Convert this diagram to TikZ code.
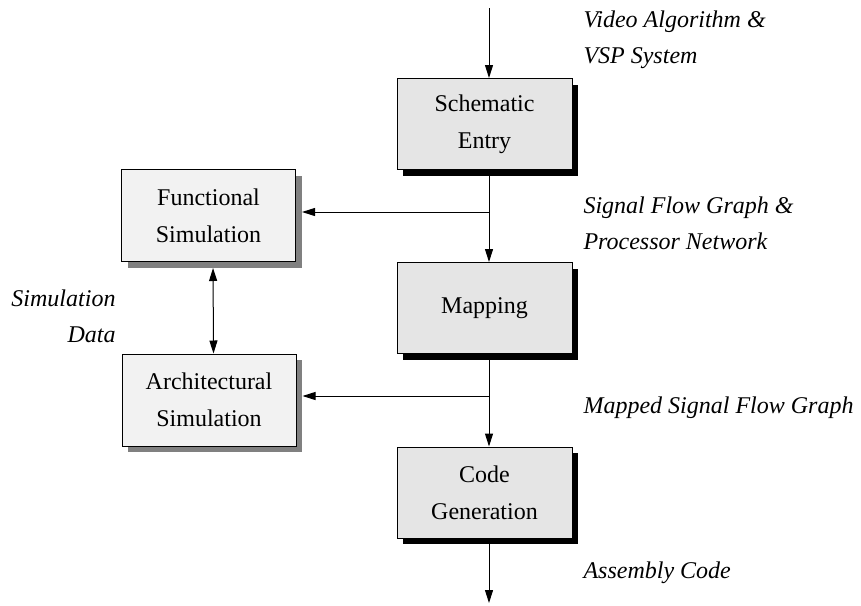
\documentclass[tikz,border=0pt]{standalone}
\usepackage{fontspec}
\setmainfont{Liberation Serif}
\usetikzlibrary{arrows.meta,shadows}
\begin{document}
\begin{tikzpicture}[x=0.5pt,y=-0.5pt,
    font=\fontsize{12}{18.5}\selectfont,
    >={Triangle[length=6.5pt,width=4pt]},
    every path/.style={line width=0.5pt},
    mainbox/.style={draw, fill=black!10, align=center, inner sep=0pt,
        minimum width=87.5pt, minimum height=45.5pt,
        drop shadow={opacity=1, fill=black, shadow xshift=3pt, shadow yshift=-3pt}},
    simbox/.style={draw, fill=black!5, align=center, inner sep=0pt,
        minimum width=87pt, minimum height=46pt,
        drop shadow={opacity=1, fill=black!50, shadow xshift=3pt, shadow yshift=-3pt}},
    lbl/.style={font=\fontsize{12}{18}\selectfont\itshape, inner sep=0pt}]
    \useasboundingbox (0,0) rectangle (861,605);
    \newcommand{\off}{2.25pt}

    % main flow
    \node[mainbox] (sch) at (484.5,124) {Schematic\\Entry};
    \node[mainbox] (map) at (484.5,308) {Mapping};
    \node[mainbox] (code) at (484.5,492.5) {Code\\Generation};

    % simulators
    \node[simbox] (fun) at (208.5,215.5) {Functional\\Simulation};
    \node[simbox] (arch) at (209,400) {Architectural\\Simulation};

    \coordinate (in) at (489,8);
    \coordinate (out) at (489,603);
    \coordinate (b1) at (489,212);
    \coordinate (b2) at (489,396);

    \draw[->] (in) -- ([xshift=\off]sch.north);
    \draw ([xshift=\off]sch.south) -- (b1);
    \draw[->] (b1) -- ([xshift=\off]map.north);
    \draw ([xshift=\off]map.south) -- (b2);
    \draw[->] (b2) -- ([xshift=\off]code.north);
    \draw[->] ([xshift=\off]code.south) -- (out);

    \draw[->, shorten >=3pt] (b1) -- (b1 -| fun.east);
    \draw[->, shorten >=3pt] (b2) -- (b2 -| arch.east);
    \draw[<->, shorten <=3pt] ([xshift=\off]fun.south) -- ([xshift=\off]arch.north);

    % labels (base is the last line)
    \node[lbl, anchor=base west, align=left] (vid) at (583,63) {Video Algorithm \&\\VSP System};
    \node[lbl, anchor=base west, align=left] (sfg) at (583,249) {Signal Flow Graph \&\\Processor Network};
    \node[lbl, anchor=base east, align=right] (sim) at (116,342) {Simulation\\Data};
    \node[lbl, anchor=base west] (msfg) at (583,413) {Mapped Signal Flow Graph};
    \node[lbl, anchor=base west] (asm) at (583,578) {Assembly Code};
\end{tikzpicture}
\end{document}
